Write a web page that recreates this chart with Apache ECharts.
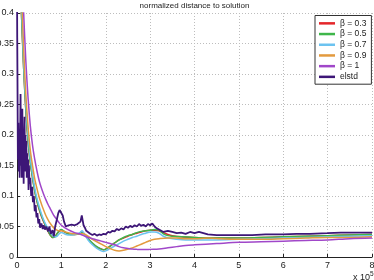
<!DOCTYPE html>
<html><head><meta charset="utf-8">
<script src="https://cdn.jsdelivr.net/npm/echarts@6/dist/echarts.min.js"></script>
<style>html,body{margin:0;padding:0;background:#fff}#c{width:374px;height:280px}</style>
</head><body><div id="c"></div>
<script>
var titleText = 'normalized distance to solution';
var seriesNames = ['\u03b2 = 0.3', '\u03b2 = 0.5', '\u03b2 = 0.7', '\u03b2 = 0.9', '\u03b2 = 1', 'elstd'];
var colors = ['#e4262a', '#3fb64a', '#6cc3f0', '#e39a3e', '#a047c9', '#3d1677'];
var xTicks = ['0','1','2','3','4','5','6','7','8'];
var yTicks = ['0','0.05','0.1','0.15','0.2','0.25','0.3','0.35','0.4'];

var beta03 = [[0,0.62],[0.05,0.5],[0.1,0.4],[0.15,0.31],[0.2,0.24],[0.25,0.19],[0.3,0.155],[0.35,0.13],[0.4,0.108],[0.45,0.091],[0.5,0.078],[0.55,0.067],[0.6,0.058],[0.65,0.05],[0.7,0.042],[0.75,0.036],[0.8,0.032],[0.85,0.033],[0.9,0.038],[0.95,0.042],[1.0,0.044],[1.05,0.042],[1.1,0.04],[1.2,0.037],[1.3,0.037],[1.4,0.038],[1.45,0.041],[1.5,0.039],[1.55,0.035],[1.6,0.03],[1.7,0.022],[1.8,0.016],[1.9,0.013],[1.95,0.012],[2.0,0.013],[2.1,0.018],[2.2,0.023],[2.3,0.028],[2.4,0.031],[2.5,0.034],[2.6,0.037],[2.7,0.039],[2.8,0.041],[2.9,0.043],[3.0,0.044],[3.1,0.044],[3.2,0.043],[3.3,0.04],[3.4,0.037],[3.5,0.035],[3.7,0.033],[4.0,0.032],[4.5,0.031],[5.0,0.031],[5.5,0.032],[6.0,0.033],[6.5,0.034],[7.0,0.035],[7.5,0.036],[8.0,0.037]];
var beta05 = [[0,0.62],[0.05,0.5],[0.1,0.4],[0.15,0.31],[0.2,0.24],[0.25,0.19],[0.3,0.155],[0.35,0.13],[0.4,0.108],[0.45,0.092],[0.5,0.079],[0.55,0.068],[0.6,0.059],[0.65,0.051],[0.7,0.043],[0.75,0.036],[0.8,0.032],[0.85,0.033],[0.9,0.038],[0.95,0.043],[1.0,0.045],[1.05,0.043],[1.1,0.04],[1.2,0.037],[1.3,0.037],[1.4,0.038],[1.45,0.041],[1.5,0.039],[1.55,0.035],[1.6,0.03],[1.7,0.023],[1.8,0.017],[1.9,0.013],[1.95,0.012],[2.0,0.013],[2.1,0.018],[2.2,0.023],[2.3,0.028],[2.4,0.032],[2.5,0.035],[2.6,0.037],[2.7,0.04],[2.8,0.042],[2.9,0.043],[3.0,0.044],[3.1,0.045],[3.2,0.044],[3.3,0.038],[3.4,0.035],[3.5,0.034],[3.7,0.033],[4.0,0.032],[4.5,0.031],[5.0,0.031],[5.5,0.032],[6.0,0.033],[6.5,0.034],[7.0,0.035],[7.5,0.036],[8.0,0.037]];
var beta07 = [[0,0.64],[0.05,0.52],[0.1,0.42],[0.15,0.32],[0.2,0.25],[0.25,0.2],[0.3,0.163],[0.35,0.136],[0.4,0.113],[0.45,0.096],[0.5,0.083],[0.55,0.071],[0.6,0.061],[0.65,0.053],[0.7,0.046],[0.75,0.04],[0.8,0.036],[0.85,0.033],[0.9,0.034],[0.95,0.038],[1.0,0.04],[1.05,0.039],[1.1,0.037],[1.2,0.036],[1.3,0.037],[1.4,0.039],[1.47,0.043],[1.5,0.04],[1.55,0.034],[1.6,0.028],[1.7,0.02],[1.8,0.014],[1.9,0.01],[1.95,0.009],[2.0,0.01],[2.1,0.014],[2.2,0.018],[2.3,0.022],[2.4,0.026],[2.5,0.029],[2.6,0.032],[2.7,0.034],[2.8,0.037],[2.9,0.039],[3.0,0.041],[3.1,0.041],[3.2,0.039],[3.3,0.034],[3.4,0.031],[3.6,0.029],[3.8,0.028],[4.0,0.028],[4.5,0.028],[5.0,0.029],[5.5,0.03],[6.0,0.031],[6.5,0.032],[7.0,0.033],[7.5,0.034],[8.0,0.035]];
var beta09 = [[0,0.66],[0.05,0.54],[0.1,0.44],[0.15,0.34],[0.2,0.265],[0.25,0.213],[0.3,0.175],[0.35,0.15],[0.4,0.128],[0.45,0.112],[0.5,0.098],[0.55,0.087],[0.6,0.077],[0.65,0.068],[0.7,0.061],[0.75,0.055],[0.8,0.05],[0.85,0.046],[0.9,0.044],[0.95,0.043],[1.0,0.043],[1.1,0.041],[1.2,0.039],[1.3,0.038],[1.4,0.038],[1.5,0.038],[1.6,0.034],[1.7,0.029],[1.8,0.025],[1.9,0.021],[2.0,0.017],[2.1,0.014],[2.2,0.011],[2.3,0.01],[2.4,0.011],[2.5,0.013],[2.6,0.015],[2.7,0.018],[2.8,0.021],[2.9,0.024],[3.0,0.027],[3.1,0.029],[3.2,0.03],[3.4,0.031],[3.6,0.031],[3.8,0.03],[4.0,0.03],[4.3,0.031],[4.6,0.03],[5.0,0.029],[5.5,0.029],[6.0,0.03],[6.5,0.031],[7.0,0.032],[7.5,0.032],[8.0,0.033]];
var beta1 = [[0,0.72],[0.05,0.6],[0.1,0.49],[0.15,0.4],[0.2,0.32],[0.25,0.26],[0.3,0.215],[0.35,0.183],[0.4,0.16],[0.45,0.141],[0.5,0.125],[0.55,0.113],[0.6,0.103],[0.65,0.094],[0.7,0.086],[0.75,0.079],[0.8,0.072],[0.85,0.066],[0.9,0.061],[0.95,0.056],[1.0,0.052],[1.1,0.047],[1.2,0.043],[1.3,0.04],[1.4,0.038],[1.5,0.035],[1.6,0.032],[1.7,0.03],[1.8,0.028],[1.9,0.026],[2.0,0.024],[2.1,0.022],[2.2,0.02],[2.3,0.017],[2.4,0.015],[2.5,0.014],[2.6,0.013],[2.7,0.0125],[2.8,0.0122],[2.9,0.0122],[3.0,0.0125],[3.2,0.013],[3.4,0.015],[3.6,0.017],[3.8,0.019],[4.0,0.02],[4.5,0.022],[5.0,0.024],[5.5,0.025],[6.0,0.026],[6.5,0.027],[7.0,0.028],[7.5,0.03],[8.0,0.031]];
var elstd = [[0,0.45],[0.005,0.36],[0.01,0.3],[0.02,0.16],[0.03,0.22],[0.04,0.14],[0.05,0.2],[0.06,0.13],[0.07,0.19],[0.08,0.267],[0.09,0.15],[0.1,0.21],[0.11,0.13],[0.12,0.243],[0.13,0.16],[0.14,0.21],[0.15,0.12],[0.16,0.19],[0.17,0.23],[0.18,0.14],[0.19,0.2],[0.2,0.15],[0.21,0.19],[0.22,0.13],[0.23,0.17],[0.24,0.14],[0.25,0.16],[0.26,0.11],[0.27,0.15],[0.28,0.12],[0.3,0.13],[0.32,0.1],[0.34,0.115],[0.36,0.09],[0.38,0.1],[0.4,0.075],[0.42,0.085],[0.44,0.065],[0.46,0.072],[0.48,0.055],[0.5,0.062],[0.52,0.048],[0.55,0.055],[0.58,0.046],[0.6,0.052],[0.63,0.045],[0.66,0.05],[0.7,0.042],[0.73,0.05],[0.76,0.038],[0.8,0.044],[0.83,0.034],[0.86,0.05],[0.9,0.062],[0.93,0.072],[0.96,0.077],[1.0,0.074],[1.03,0.068],[1.06,0.058],[1.1,0.05],[1.13,0.047],[1.16,0.052],[1.2,0.049],[1.23,0.053],[1.26,0.05],[1.3,0.052],[1.33,0.049],[1.36,0.054],[1.4,0.052],[1.43,0.058],[1.46,0.068],[1.48,0.06],[1.5,0.052],[1.53,0.048],[1.56,0.043],[1.6,0.04],[1.65,0.038],[1.7,0.036],[1.75,0.038],[1.8,0.035],[1.85,0.037],[1.9,0.036],[1.95,0.038],[2.0,0.037],[2.05,0.041],[2.1,0.04],[2.15,0.043],[2.2,0.042],[2.25,0.046],[2.3,0.044],[2.35,0.047],[2.4,0.045],[2.45,0.05],[2.5,0.048],[2.55,0.051],[2.6,0.049],[2.65,0.052],[2.7,0.05],[2.75,0.054],[2.8,0.051],[2.85,0.053],[2.9,0.05],[2.95,0.054],[3.0,0.052],[3.05,0.055],[3.1,0.05],[3.15,0.047],[3.2,0.045],[3.25,0.043],[3.3,0.041],[3.35,0.042],[3.4,0.043],[3.5,0.041],[3.6,0.039],[3.7,0.04],[3.8,0.038],[3.9,0.041],[4.0,0.039],[4.1,0.041],[4.2,0.039],[4.3,0.037],[4.5,0.036],[4.7,0.036],[5.0,0.036],[5.3,0.036],[5.6,0.037],[6.0,0.037],[6.3,0.038],[6.6,0.038],[7.0,0.039],[7.3,0.04],[7.6,0.04],[8.0,0.04]];

var dataList = [beta03, beta05, beta07, beta09, beta1, elstd];
var font = 'Liberation Sans, Arial, sans-serif';

var chart = echarts.init(document.getElementById('c'), null, {renderer: 'canvas'});
var series = dataList.map(function (d, i) {
  var isElstd = i === 5;
  return {
    name: seriesNames[i],
    type: 'line',
    data: d,
    showSymbol: false,
    symbol: 'none',
    smooth: isElstd ? false : 0.3,
    clip: true,
    animation: false,
    lineStyle: {color: colors[i], width: isElstd ? 1.8 : 1.5},
    itemStyle: {color: colors[i]},
    z: 2 + i
  };
});

chart.setOption({
  animation: false,
  backgroundColor: '#fff',
  grid: {left: 17, right: 2, top: 13, bottom: 23, containLabel: false, outerBoundsMode: 'none'},
  xAxis: {
    type: 'value', min: 0, max: 8, interval: 1,
    axisLine: {show: true, onZero: false, lineStyle: {color: '#222', width: 1}},
    axisTick: {show: true, inside: true, length: 3, lineStyle: {color: '#222'}},
    axisLabel: {fontSize: 9, color: '#222', fontFamily: font, margin: 4,
      formatter: function (v) { return xTicks[Math.round(v)]; }},
    splitLine: {show: true, lineStyle: {color: '#bdbdbd', type: [1, 2], width: 1}}
  },
  yAxis: {
    type: 'value', min: 0, max: 0.4, interval: 0.05,
    axisLine: {show: true, lineStyle: {color: '#222', width: 1}},
    axisTick: {show: true, inside: true, length: 3, lineStyle: {color: '#222'}},
    axisLabel: {fontSize: 9, color: '#222', fontFamily: font, margin: 3,
      formatter: function (v) { return yTicks[Math.round(v / 0.05)]; }},
    splitLine: {show: true, lineStyle: {color: '#bdbdbd', type: [1, 2], width: 1}}
  },
  legend: {
    orient: 'vertical', left: 315, top: 15.5,
    data: seriesNames.map(function (n) { return {name: n, icon: 'rect'}; }),
    itemWidth: 16, itemHeight: 2.5, itemGap: 0,
    padding: [2.5, 5, 2, 4],
    backgroundColor: '#fff', borderColor: '#333', borderWidth: 1,
    textStyle: {fontSize: 8.5, color: '#222', fontFamily: font, lineHeight: 10.7},
    selectedMode: false
  },
  graphic: [
    {type: 'text', silent: true, z: 100, x: 194.5, y: 1.5,
      style: {text: titleText, fontSize: 8, fontFamily: font, fill: '#222', align: 'center', verticalAlign: 'top'}},
    {type: 'text', silent: true, z: 100, x: 353, y: 271,
      style: {text: '{a|x 10}{b|5}', fontFamily: font, fill: '#222',
        rich: {a: {fontSize: 9, fill: '#222', fontFamily: font, verticalAlign: 'bottom', lineHeight: 11},
               b: {fontSize: 6.5, fill: '#222', fontFamily: font, verticalAlign: 'top', lineHeight: 11}}}}
  ],
  series: series
});
</script></body></html>
